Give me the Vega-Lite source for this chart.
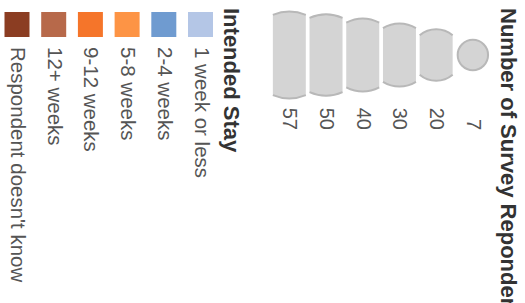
{
  "$schema": "https://vega.github.io/schema/vega-lite/v6.json",
  "width": 525,
  "height": 303,
  "padding": 0,
  "autosize": {"type": "none"},
  "background": "white",
  "config": {"view": {"stroke": null}},
  "datasets": {
    "stay": [
      {"stay": "Respondent doesn't know", "slot": 0},
      {"stay": "12+ weeks", "slot": 1},
      {"stay": "9-12 weeks", "slot": 2},
      {"stay": "5-8 weeks", "slot": 3},
      {"stay": "2-4 weeks", "slot": 4},
      {"stay": "1 week or less", "slot": 5}
    ],
    "respondents": [
      {"respondents": 57, "slot": 7},
      {"respondents": 50, "slot": 8},
      {"respondents": 40, "slot": 9},
      {"respondents": 30, "slot": 10},
      {"respondents": 20, "slot": 11},
      {"respondents": 7, "slot": 12}
    ],
    "titles": [
      {"title": "Intended Stay", "slot": 5.83},
      {"title": "Number of Survey Repondents", "slot": 13.38}
    ]
  },
  "resolve": {"scale": {"shape": "independent"}},
  "layer": [
    {
      "data": {"name": "stay"},
      "mark": {"type": "square", "size": 625, "filled": true, "opacity": 1},
      "encoding": {
        "x": {"field": "slot", "type": "quantitative", "scale": {"domain": [-0.463, 13.84], "nice": false, "zero": false}, "axis": null},
        "y": {"datum": 24.5, "type": "quantitative", "scale": {"domain": [0, 303], "reverse": true, "nice": false, "zero": false}, "axis": null},
        "color": {
          "field": "stay", "type": "nominal", "legend": null,
          "scale": {
            "domain": ["1 week or less", "2-4 weeks", "5-8 weeks", "9-12 weeks", "12+ weeks", "Respondent doesn't know"],
            "range": ["#b4c6e6", "#6f9bd0", "#fd9445", "#f5752a", "#b7694a", "#8b3d22"]
          }
        }
      }
    },
    {
      "data": {"name": "stay"},
      "mark": {"type": "text", "angle": 90, "align": "left", "baseline": "middle", "font": "Liberation Sans", "fontSize": 20.5, "color": "#555555"},
      "encoding": {
        "x": {"field": "slot", "type": "quantitative", "axis": null},
        "y": {"datum": 47, "type": "quantitative", "axis": null},
        "text": {"field": "stay"}
      }
    },
    {
      "data": {"name": "respondents"},
      "mark": {"type": "point", "filled": true, "color": "#d4d4d4", "opacity": 1, "strokeWidth": 0, "xOffset": 15.4},
      "encoding": {
        "x": {"field": "slot", "type": "quantitative", "axis": null},
        "y": {"datum": 55, "type": "quantitative", "axis": null},
        "size": {"field": "respondents", "type": "quantitative", "legend": null, "scale": {"domain": [0, 57], "range": [0, 7524], "zero": true}},
        "shape": {
          "field": "respondents", "type": "nominal", "legend": null,
          "scale": {
            "domain": [57, 50, 40, 30, 20, 7],
            "range": [
              "M-0.380,-0.925A1,1,0,0,1,0.380,-0.925L0.380,0.925A1,1,0,0,1,-0.380,0.925Z",
              "M-0.406,-0.914A1,1,0,0,1,0.406,-0.914L0.406,0.914A1,1,0,0,1,-0.406,0.914Z",
              "M-0.454,-0.891A1,1,0,0,1,0.454,-0.891L0.454,0.891A1,1,0,0,1,-0.454,0.891Z",
              "M-0.524,-0.852A1,1,0,0,1,0.524,-0.852L0.524,0.852A1,1,0,0,1,-0.524,0.852Z",
              "M-0.642,-0.767A1,1,0,0,1,0.642,-0.767L0.642,0.767A1,1,0,0,1,-0.642,0.767Z",
              "circle"
            ]
          }
        }
      }
    },
    {
      "data": {"name": "respondents"},
      "mark": {"type": "point", "filled": false, "color": "#b8b8b8", "opacity": 1, "strokeWidth": 2, "xOffset": 15.4},
      "encoding": {
        "x": {"field": "slot", "type": "quantitative", "axis": null},
        "y": {"datum": 55, "type": "quantitative", "axis": null},
        "size": {"field": "respondents", "type": "quantitative", "legend": null},
        "shape": {
          "field": "respondents", "type": "nominal", "legend": null,
          "scale": {
            "domain": [57, 50, 40, 30, 20, 7],
            "range": [
              "M-0.380,-0.925A1,1,0,0,1,0.380,-0.925M0.380,0.925A1,1,0,0,1,-0.380,0.925",
              "M-0.406,-0.914A1,1,0,0,1,0.406,-0.914M0.406,0.914A1,1,0,0,1,-0.406,0.914",
              "M-0.454,-0.891A1,1,0,0,1,0.454,-0.891M0.454,0.891A1,1,0,0,1,-0.454,0.891",
              "M-0.524,-0.852A1,1,0,0,1,0.524,-0.852M0.524,0.852A1,1,0,0,1,-0.524,0.852",
              "M-0.642,-0.767A1,1,0,0,1,0.642,-0.767M0.642,0.767A1,1,0,0,1,-0.642,0.767",
              "circle"
            ]
          }
        }
      }
    },
    {
      "data": {"name": "respondents"},
      "mark": {"type": "text", "angle": 90, "align": "right", "baseline": "middle", "font": "Liberation Sans", "fontSize": 20, "color": "#555555", "xOffset": 15.4},
      "encoding": {
        "x": {"field": "slot", "type": "quantitative", "axis": null},
        "y": {"datum": 130, "type": "quantitative", "axis": null},
        "text": {"field": "respondents", "type": "quantitative"}
      }
    },
    {
      "data": {"name": "titles"},
      "mark": {"type": "text", "angle": 90, "align": "left", "baseline": "middle", "font": "Liberation Sans", "fontSize": 22, "fontWeight": "bold", "color": "#333333"},
      "encoding": {
        "x": {"field": "slot", "type": "quantitative", "axis": null},
        "y": {"datum": 8, "type": "quantitative", "axis": null},
        "text": {"field": "title"}
      }
    }
  ]
}
